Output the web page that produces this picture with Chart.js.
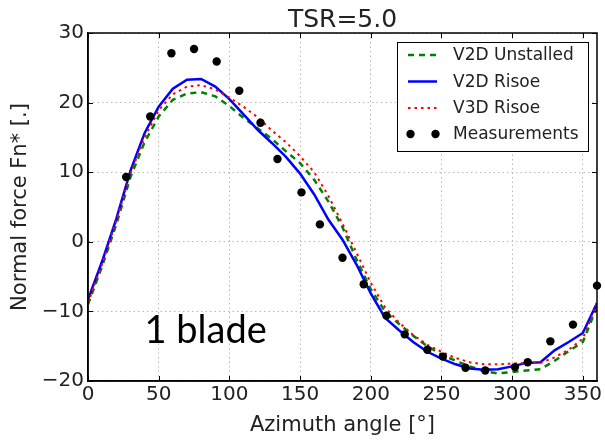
<!DOCTYPE html>
<html>
<head>
<meta charset="utf-8">
<script src="https://cdn.jsdelivr.net/npm/chart.js@4/dist/chart.umd.min.js"></script>
<style>
html,body{margin:0;padding:0;background:#fff;}
#wrap{width:605px;height:440px;}
</style>
</head>
<body>
<div id="wrap"><canvas id="c" width="605" height="440"></canvas></div>
<script>
// ---- data ----
const titleText = 'TSR=5.0';
const xTitle = 'Azimuth angle [\u00b0]';
const yTitle = 'Normal force Fn* [.]';
const annotation = '1 blade';
const seriesNames = ['V2D Unstalled', 'V2D Risoe', 'V3D Risoe', 'Measurements'];

const modelAngle = [0,10,20,30,40,50,60,70,80,90,100,110,120,130,140,150,160,170,180,
  190,200,210,220,230,240,250,260,270,280,290,300,310,320,330,340,350,360];
const v2dUnstalled = [-9.0,-3.5,2.5,9.3,14.3,18.0,20.4,21.3,21.5,20.9,19.5,17.8,16.3,14.8,13.0,11.3,8.9,5.8,2.1,
  -2.6,-6.8,-10.0,-11.8,-13.5,-15.0,-16.2,-17.1,-17.9,-18.6,-18.9,-18.7,-18.5,-18.3,-17.1,-15.7,-14.4,-9.3];
const v2dRisoe = [-8.3,-2.8,3.3,10.2,15.6,19.4,22.0,23.3,23.4,22.3,20.5,18.3,16.1,14.2,12.2,9.8,6.8,3.2,0.3,
  -3.3,-7.4,-10.9,-12.7,-14.4,-15.8,-16.8,-17.6,-18.2,-18.4,-18.3,-17.9,-17.4,-17.3,-15.6,-14.4,-13.1,-8.8];
const v3dRisoe = [-8.8,-3.2,3.0,9.8,15.0,18.9,21.2,22.3,22.5,21.9,20.7,19.4,17.9,16.0,14.3,12.3,10.0,6.6,2.6,
  -1.6,-5.9,-9.4,-11.6,-13.4,-14.8,-15.8,-16.7,-17.3,-17.6,-17.6,-17.5,-17.4,-17.4,-16.6,-15.5,-13.9,-8.8];
const measAngle = [27,44,59,75,91,107,122,134,151,164,180,195,211,224,240,251,267,281,302,311,327,343,360];
const measFn = [9.3,18.0,27.1,27.7,25.9,21.7,17.1,11.9,7.1,2.5,-2.3,-6.1,-10.6,-13.3,-15.5,-16.5,-18.1,-18.5,-18.0,-17.3,-14.3,-11.9,-6.3];
const xTickValues = [0,50,100,150,200,250,300,350];
const yTickValues = [-20,-10,0,10,20,30];

const pts = (xs, ys) => xs.map((x, i) => ({x: x, y: ys[i]}));
const FONT = "'DejaVu Sans', sans-serif";
const TXT = '#222';

const framePlugin = {
  id: 'frame',
  afterDraw(chart) {
    const {ctx, chartArea: a, scales} = chart;
    const xs = scales.x, ys = scales.y;
    ctx.save();
    // frame
    ctx.strokeStyle = '#000';
    ctx.lineWidth = 1.5;
    ctx.strokeRect(a.left, a.top, a.right - a.left, a.bottom - a.top);
    // inside ticks, all four sides
    ctx.lineWidth = 1;
    const tl = 5;
    ctx.beginPath();
    xTickValues.forEach(v => {
      const p = Math.round(xs.getPixelForValue(v)) + 0.5;
      ctx.moveTo(p, a.bottom); ctx.lineTo(p, a.bottom - tl);
      ctx.moveTo(p, a.top); ctx.lineTo(p, a.top + tl);
    });
    yTickValues.forEach(v => {
      const p = Math.round(ys.getPixelForValue(v)) + 0.5;
      ctx.moveTo(a.left, p); ctx.lineTo(a.left + tl, p);
      ctx.moveTo(a.right, p); ctx.lineTo(a.right - tl, p);
    });
    ctx.stroke();

    // title
    ctx.fillStyle = TXT;
    ctx.font = '25px ' + FONT;
    ctx.textAlign = 'center';
    ctx.textBaseline = 'alphabetic';
    ctx.fillText(titleText, (a.left + a.right) / 2, 27);

    // annotation "1 blade"
    ctx.fillStyle = '#000';
    ctx.font = '38px Lato, "Open Sans", sans-serif';
    ctx.textAlign = 'left';
    ctx.fillText(annotation, xs.getPixelForValue(40), ys.getPixelForValue(-14.5));

    // legend
    const lx = 397, ly = 42, lw = 191, lh = 109;
    ctx.fillStyle = '#fff';
    ctx.fillRect(lx, ly, lw, lh);
    ctx.strokeStyle = '#000';
    ctx.lineWidth = 1;
    ctx.strokeRect(lx + 0.5, ly + 0.5, lw, lh);
    const rows = [55, 81.5, 108, 134];
    ctx.font = '17px ' + FONT;
    ctx.textBaseline = 'middle';
    chart.data.datasets.forEach((ds, i) => {
      const y = rows[i];
      if (ds.showLine === false) {
        ctx.fillStyle = ds.pointBackgroundColor;
        [410.5, 435.5].forEach(px => {
          ctx.beginPath(); ctx.arc(px, y, ds.pointRadius, 0, Math.PI * 2); ctx.fill();
        });
      } else {
        ctx.save();
        ctx.strokeStyle = ds.borderColor;
        ctx.lineWidth = ds.borderWidth;
        ctx.setLineDash(ds.borderDash || []);
        ctx.beginPath(); ctx.moveTo(408, y); ctx.lineTo(437, y); ctx.stroke();
        ctx.restore();
      }
      ctx.fillStyle = TXT;
      ctx.textAlign = 'left';
      ctx.fillText(ds.label, 453, y + 1);
    });
    ctx.restore();
  }
};

new Chart(document.getElementById('c'), {
  type: 'line',
  data: {
    datasets: [
      {label: seriesNames[0], data: pts(modelAngle, v2dUnstalled), borderColor: '#008000', borderWidth: 2.5,
       borderDash: [6, 5], pointRadius: 0, tension: 0, fill: false, order: 3},
      {label: seriesNames[1], data: pts(modelAngle, v2dRisoe), borderColor: '#0000ff', borderWidth: 2.5,
       pointRadius: 0, tension: 0, fill: false, order: 2},
      {label: seriesNames[2], data: pts(modelAngle, v3dRisoe), borderColor: '#ff0000', borderWidth: 2,
       borderDash: [2.5, 4], pointRadius: 0, tension: 0, fill: false, order: 1},
      {label: seriesNames[3], data: pts(measAngle, measFn), showLine: false, pointRadius: 4.2,
       pointBackgroundColor: '#000', pointBorderColor: '#000', pointBorderWidth: 0, clip: false, order: 0}
    ]
  },
  options: {
    responsive: false,
    animation: false,
    devicePixelRatio: 1,
    layout: {padding: {top: 33, right: 8, left: 0, bottom: 0}},
    plugins: {legend: {display: false}, title: {display: false}, tooltip: {enabled: false}},
    scales: {
      x: {
        type: 'linear', min: 0, max: 360,
        afterBuildTicks: s => { s.ticks = xTickValues.map(v => ({value: v})); },
        afterFit: s => { s.height = 59; },
        ticks: {stepSize: 50, color: TXT, font: {family: FONT, size: 20}, padding: 2, maxRotation: 0},
        grid: {color: '#b8b8b8', lineWidth: 1, drawTicks: false},
        border: {display: true, color: '#000', width: 1.5, dash: [1.5, 3]},
        title: {display: true, text: xTitle, color: TXT, font: {family: FONT, size: 21}, padding: {top: 0, bottom: 2}}
      },
      y: {
        type: 'linear', min: -20, max: 30,
        afterBuildTicks: s => { s.ticks = yTickValues.map(v => ({value: v})); },
        afterFit: s => { s.width = 88; },
        ticks: {stepSize: 10, color: TXT, font: {family: FONT, size: 20}, padding: 4,
          callback: v => (v < 0 ? '\u2212' + Math.abs(v) : String(v))},
        grid: {color: '#b8b8b8', lineWidth: 1, drawTicks: false},
        border: {display: true, color: '#000', width: 1.5, dash: [1.5, 3]},
        title: {display: true, text: yTitle, color: TXT, font: {family: FONT, size: 21}, padding: {top: 8, bottom: 0}}
      }
    }
  },
  plugins: [framePlugin]
});
</script>
</body>
</html>
